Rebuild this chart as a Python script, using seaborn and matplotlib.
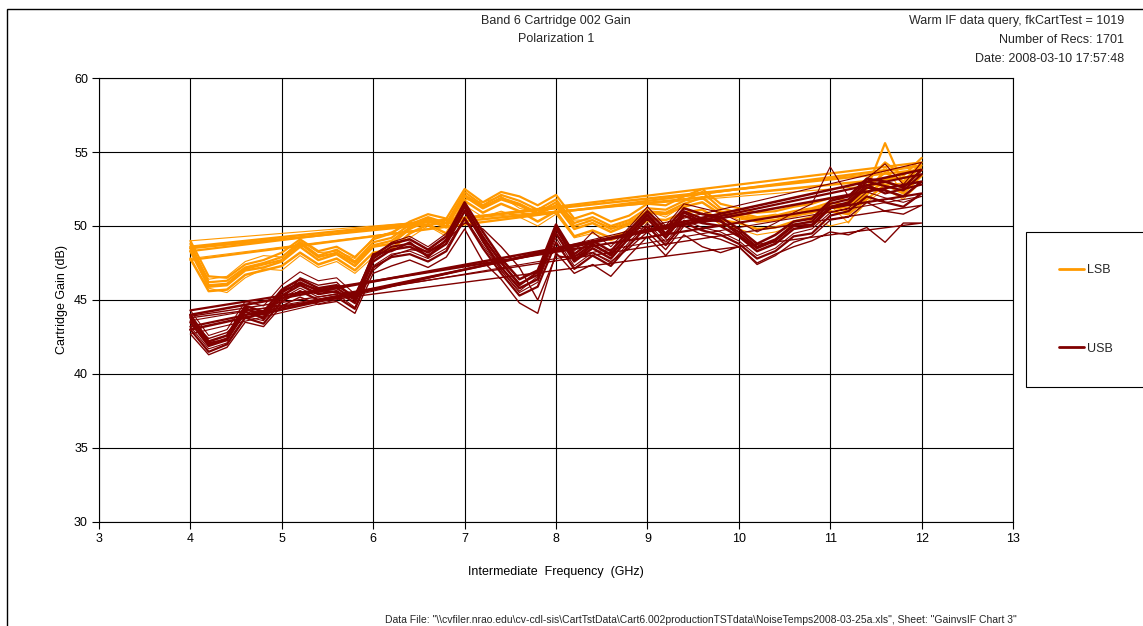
import numpy as np
import pandas as pd
import matplotlib
matplotlib.use("Agg")
import matplotlib.pyplot as plt
import seaborn as sns
from matplotlib.lines import Line2D
from matplotlib.patches import Rectangle

# ---------------- data ----------------
freq_ghz = [4.0, 4.2, 4.4, 4.6, 4.8, 5.0, 5.2, 5.4, 5.6, 5.8,
            6.0, 6.2, 6.4, 6.6, 6.8, 7.0, 7.2, 7.4, 7.6, 7.8,
            8.0, 8.2, 8.4, 8.6, 8.8, 9.0, 9.2, 9.4, 9.6, 9.8,
            10.0, 10.2, 10.4, 10.6, 10.8, 11.0, 11.2, 11.4, 11.6, 11.8, 12.0]

lsb_1 = [48.8, 46.2, 46.3, 47.2, 47.5, 47.9, 48.9, 48.0, 48.4, 47.6, 48.9, 49.2, 50.1, 50.6, 50.2, 52.3, 51.4, 52.1, 51.7, 51.1,
         51.8, 50.2, 50.6, 50.0, 50.4, 51.2, 51.1, 51.7, 52.3, 51.2, 50.9, 50.6, 50.7, 51.0, 51.2, 51.6, 51.4, 52.6, 53.6, 53.0, 54.3]
lsb_2 = [48.3, 45.9, 46.0, 47.0, 47.2, 47.6, 48.6, 47.7, 48.1, 47.3, 48.6, 48.8, 49.8, 50.4, 49.9, 52.0, 51.2, 51.8, 51.4, 50.8,
         51.4, 49.8, 50.2, 49.6, 50.1, 50.9, 50.8, 51.3, 51.6, 50.8, 50.6, 50.3, 50.4, 50.7, 50.9, 51.3, 51.0, 52.2, 53.0, 52.6, 53.8]
lsb_3 = [48.6, 46.4, 46.6, 47.6, 48.0, 47.9, 49.0, 48.2, 48.3, 47.8, 49.2, 49.6, 50.2, 50.5, 50.0, 51.8, 51.6, 52.0, 51.2, 50.9,
         51.6, 50.4, 50.4, 49.9, 50.3, 51.0, 50.6, 51.4, 52.0, 51.0, 50.4, 50.6, 50.8, 50.6, 51.0, 51.4, 50.2, 52.0, 54.0, 52.2, 54.0]
lsb_4 = [47.8, 45.6, 45.7, 46.7, 47.0, 47.3, 48.2, 47.4, 47.8, 47.0, 48.2, 48.4, 49.5, 50.1, 49.5, 51.7, 50.9, 51.5, 51.0, 50.3,
         51.0, 49.3, 49.7, 49.2, 49.7, 50.5, 50.4, 50.9, 51.1, 50.4, 50.2, 49.8, 49.9, 50.3, 50.6, 51.0, 50.8, 51.8, 52.8, 52.2, 53.4]
lsb_5 = [48.5, 46.0, 46.1, 47.1, 47.4, 47.7, 48.8, 47.9, 48.2, 47.5, 48.7, 49.0, 49.9, 50.5, 50.0, 52.1, 51.3, 51.9, 51.5, 50.9,
         51.6, 50.0, 50.4, 49.8, 50.2, 51.0, 50.9, 51.5, 51.9, 51.0, 50.7, 50.5, 50.6, 50.8, 51.1, 51.4, 51.2, 52.5, 55.6, 52.8, 54.1]
lsb_6 = [47.7, 45.8, 45.5, 46.5, 47.1, 47.0, 48.0, 47.2, 47.6, 46.8, 47.9, 48.6, 49.2, 50.0, 49.3, 51.4, 50.6, 51.0, 50.6, 50.0,
         50.8, 49.2, 49.5, 49.0, 49.5, 50.3, 50.0, 50.6, 50.9, 50.1, 49.8, 49.4, 49.6, 50.0, 50.4, 50.0, 50.3, 51.6, 52.5, 51.8, 53.0]
lsb_7 = [49.0, 46.6, 46.5, 47.4, 47.7, 48.2, 49.1, 48.3, 48.6, 47.9, 49.1, 49.5, 50.3, 50.8, 50.5, 52.5, 51.6, 52.3, 52.0, 51.4,
         52.1, 50.5, 50.9, 50.3, 50.7, 51.5, 51.4, 52.0, 52.5, 51.5, 51.2, 50.9, 51.0, 51.3, 51.5, 51.9, 51.7, 53.0, 54.3, 53.4, 54.6]

usb_1 = [43.5, 41.9, 42.3, 44.2, 43.8, 45.3, 46.0, 45.4, 45.6, 44.8, 47.6, 48.4, 48.6, 48.0, 48.8, 51.0, 49.0, 47.2, 45.8, 46.4,
         49.5, 47.6, 48.5, 47.8, 49.2, 50.5, 49.2, 50.7, 50.2, 50.0, 49.3, 48.3, 48.8, 49.8, 50.0, 51.2, 51.5, 52.6, 52.4, 52.0, 53.0]
usb_2 = [44.0, 42.2, 42.6, 44.6, 44.2, 45.7, 46.4, 45.8, 46.0, 45.2, 48.0, 48.8, 49.1, 48.4, 49.3, 51.6, 49.6, 47.8, 46.4, 47.0,
         50.1, 48.1, 49.0, 48.3, 49.7, 51.0, 49.8, 51.2, 50.8, 50.6, 49.8, 48.8, 49.4, 50.3, 50.5, 51.7, 52.0, 53.2, 53.0, 52.6, 53.8]
usb_3 = [43.0, 41.5, 42.0, 43.8, 43.4, 44.9, 45.6, 45.0, 45.2, 44.4, 47.2, 47.9, 48.1, 47.6, 48.3, 50.5, 48.5, 46.8, 45.3, 45.9,
         48.9, 47.1, 48.0, 47.3, 48.7, 50.0, 48.7, 50.2, 49.7, 49.4, 48.8, 47.8, 48.3, 49.3, 49.5, 50.7, 51.0, 52.0, 51.6, 51.3, 52.2]
usb_4 = [44.3, 42.6, 43.0, 44.9, 44.6, 46.0, 46.9, 46.3, 46.5, 45.4, 47.9, 48.9, 49.3, 48.6, 49.5, 51.2, 48.9, 47.0, 45.6, 46.6,
         49.8, 48.3, 49.6, 48.6, 49.9, 51.3, 50.0, 51.5, 51.2, 50.9, 50.3, 49.6, 50.2, 50.9, 51.5, 54.0, 52.0, 53.2, 54.2, 52.8, 54.3]
usb_5 = [42.7, 41.3, 41.8, 43.5, 43.2, 44.6, 45.2, 44.7, 44.9, 44.1, 46.8, 47.3, 47.7, 47.2, 47.9, 49.8, 47.6, 46.4, 44.8, 44.1,
         48.2, 46.8, 47.4, 46.6, 48.0, 49.3, 48.0, 49.4, 48.6, 48.2, 48.6, 47.5, 48.1, 48.6, 49.0, 49.6, 49.4, 49.9, 48.9, 50.2, 50.2]
usb_6 = [43.8, 42.0, 42.4, 44.4, 44.0, 45.5, 46.2, 45.6, 45.8, 45.0, 47.8, 48.6, 48.8, 48.2, 49.0, 51.3, 49.3, 47.5, 46.1, 46.7,
         49.8, 47.9, 48.8, 48.0, 49.5, 50.8, 49.5, 51.0, 50.5, 50.3, 49.6, 48.6, 49.1, 50.1, 50.3, 51.5, 51.8, 53.0, 52.7, 52.4, 53.5]
usb_7 = [43.2, 41.7, 42.1, 43.9, 43.6, 45.1, 45.8, 45.2, 45.4, 44.5, 47.3, 48.1, 48.3, 47.8, 48.5, 50.6, 48.7, 47.0, 45.5, 46.2,
         49.2, 47.3, 48.2, 47.5, 48.9, 50.2, 48.9, 50.4, 49.9, 49.6, 49.0, 48.0, 48.5, 49.5, 49.8, 50.9, 51.2, 52.3, 51.9, 51.6, 52.0]
usb_8 = [43.6, 42.4, 42.8, 44.0, 44.3, 45.0, 46.5, 46.0, 46.2, 45.0, 47.0, 48.0, 48.4, 48.3, 49.0, 50.2, 49.8, 48.6, 47.2, 45.0,
         48.0, 47.8, 48.2, 47.6, 48.5, 49.6, 48.4, 50.0, 49.4, 49.1, 48.6, 47.4, 48.0, 48.9, 49.3, 50.4, 50.6, 51.6, 51.0, 50.8, 51.4]
usb_9 = [43.9, 42.1, 42.3, 44.5, 43.7, 45.6, 46.1, 45.7, 45.5, 45.1, 48.1, 48.3, 48.9, 47.9, 49.1, 51.4, 49.2, 47.6, 46.0, 46.9,
         49.9, 47.7, 48.7, 48.1, 49.4, 50.7, 49.4, 50.9, 50.3, 50.4, 49.4, 48.5, 49.0, 50.0, 50.1, 51.3, 51.6, 52.8, 52.2, 52.5, 52.8]

lsb_traces = [lsb_1, lsb_2, lsb_3, lsb_4, lsb_5, lsb_6, lsb_7]
usb_traces = [usb_1, usb_2, usb_3, usb_4, usb_5, usb_6, usb_7, usb_8, usb_9]
lsb_widths = [1.6, 1.8, 0.8, 1.8, 1.6, 0.8, 1.6]
usb_widths = [1.8, 1.8, 1.6, 0.8, 1.0, 1.6, 0.8, 1.0, 1.6]

band_labels = ["LSB", "USB"]
band_colors = {"LSB": "#FF9900", "USB": "#800000"}

# ---------------- figure ----------------
sns.set_theme(style="white")
plt.rcParams["font.family"] = ["Liberation Sans", "DejaVu Sans"]

W, H = 1143, 626
fig = plt.figure(figsize=(W / 100, H / 100), dpi=100)
ax = fig.add_axes([99 / W, 1 - 522 / H, (1013 - 99) / W, (522 - 78) / H])


def band_frame(traces, band):
    rows = []
    for i, tr in enumerate(traces):
        xs = list(freq_ghz)
        ys = list(tr)
        # Excel-style continuous series: line returns to the start of the next record
        if i + 1 < len(traces):
            xs.append(freq_ghz[0])
            ys.append(traces[i + 1][0])
        for k, (x, y) in enumerate(zip(xs, ys)):
            rows.append({"freq": x, "gain": y, "trace": i, "order": k, "band": band})
    return pd.DataFrame(rows)


for traces, widths, band in [(lsb_traces, lsb_widths, "LSB"), (usb_traces, usb_widths, "USB")]:
    df = band_frame(traces, band)
    for (tname, sub), lw in zip(df.groupby("trace", sort=True), widths):
        sns.lineplot(data=sub.sort_values("order"), x="freq", y="gain", sort=False,
                     estimator=None, color=band_colors[band], linewidth=lw, ax=ax,
                     legend=False)

ax.set_xlim(3, 13)
ax.set_ylim(30, 60)
ax.set_xticks(range(3, 14))
ax.set_yticks(range(30, 61, 5))
ax.grid(True, color="black", linewidth=0.8)
ax.set_axisbelow(True)
for s in ax.spines.values():
    s.set_color("black")
    s.set_linewidth(0.8)
ax.tick_params(direction="out", length=5, width=0.8, colors="black", labelsize=9,
               left=True, bottom=True, pad=3)

ax.set_xlabel("Intermediate  Frequency  (GHz)", fontsize=9, color="black")
ax.set_ylabel("Cartridge Gain (dB)", fontsize=9, color="black")
ax.xaxis.set_label_coords(0.5, -0.098)
ax.yaxis.set_label_coords(-0.034, 0.5)

# titles and annotations
fig.text(556 / W, 1 - 21 / H, "Band 6 Cartridge 002 Gain", ha="center", va="center", fontsize=9)
fig.text(556 / W, 1 - 39 / H, "Polarization 1", ha="center", va="center", fontsize=9)
fig.text(1124 / W, 1 - 21 / H, "Warm IF data query, fkCartTest = 1019", ha="right", va="center", fontsize=9)
fig.text(1124 / W, 1 - 40 / H, "Number of Recs: 1701", ha="right", va="center", fontsize=9)
fig.text(1124 / W, 1 - 59 / H, "Date: 2008-03-10 17:57:48", ha="right", va="center", fontsize=9)
fig.text(701 / W, 0.002,
         'Data File: "\\\\cvfiler.nrao.edu\\cv-cdl-sis\\CartTstData\\Cart6.002productionTSTdata\\NoiseTemps2008-03-25a.xls", Sheet: "GainvsIF Chart 3"',
         ha="center", va="bottom", fontsize=7.5)

# outer chart border
fig.add_artist(Rectangle((7 / W, -0.05), 1.2, (1 - 9 / H) + 0.05, transform=fig.transFigure,
                         fill=False, edgecolor="black", linewidth=1.0))

# legend
handles = [Line2D([0], [0], color=band_colors[b], linewidth=2) for b in band_labels]
leg = fig.legend(handles, band_labels, loc="upper left", bbox_to_anchor=(1026 / W, 1 - 232 / H),
                 frameon=True, fontsize=9, borderpad=2.6, labelspacing=5.3, handlelength=2.0,
                 handletextpad=0.25, fancybox=False, edgecolor="black", framealpha=1,
                 borderaxespad=0)
leg.get_frame().set_linewidth(0.8)

fig.savefig("out.png", dpi=100)
